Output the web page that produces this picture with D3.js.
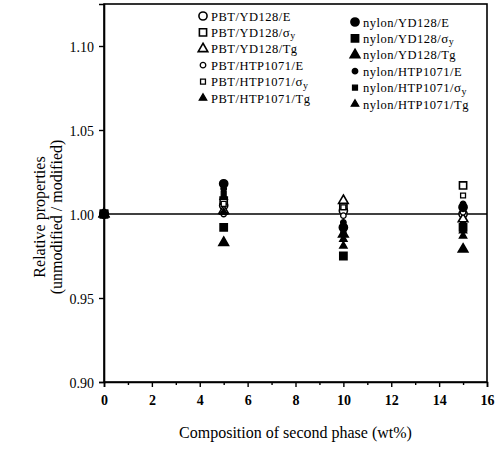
<!DOCTYPE html>
<html>
<head>
<meta charset="utf-8">
<script src="https://cdn.jsdelivr.net/npm/d3@7"></script>
<style>
  body { margin: 0; background: #fff; }
  svg { font-family: "Liberation Serif", "DejaVu Serif", serif; }
</style>
</head>
<body>
<svg id="svg1" width="499" height="451"></svg>
<script>
'use strict'

// composition of second phase (wt%)
let composition = [0, 5, 10, 15];

// relative properties, one array per series
let pbtYdE     = [1.000, 1.005, 1.002, 1.000];
let pbtYdSy    = [1.000, 1.008, 1.005, 1.017];
let pbtYdTg    = [1.000, 1.002, 1.008, 0.997];
let pbtHtpE    = [1.000, 1.000, 0.999, 1.001];
let pbtHtpSy   = [1.000, 1.006, 1.004, 1.011];
let pbtHtpTg   = [1.000, 1.010, 0.981, 0.987];
let nylonYdE   = [1.000, 1.018, 0.992, 1.004];
let nylonYdSy  = [1.000, 0.992, 0.975, 0.992];
let nylonYdTg  = [1.000, 0.983, 0.988, 0.979];
let nylonHtpE  = [1.000, 1.015, 0.995, 1.006];
let nylonHtpSy = [1.000, 1.012, 0.990, 0.994];
let nylonHtpTg = [1.000, 1.001, 0.985, 0.990];

let yTicks = [0.90, 0.95, 1.00, 1.05, 1.10];
let xTicks = [0, 2, 4, 6, 8, 10, 12, 14, 16];

// label parts: base text, then "sy" for sigma-y or the plain tail
let series = [
  {name: ["PBT/YD128/", "E"],      shape: "circle",   big: true,  fill: false, values: pbtYdE},
  {name: ["PBT/YD128/", "sy"],     shape: "square",   big: true,  fill: false, values: pbtYdSy},
  {name: ["PBT/YD128/", "Tg"],     shape: "triangle", big: true,  fill: false, values: pbtYdTg},
  {name: ["PBT/HTP1071/", "E"],    shape: "circle",   big: false, fill: false, values: pbtHtpE},
  {name: ["PBT/HTP1071/", "sy"],   shape: "square",   big: false, fill: false, values: pbtHtpSy},
  {name: ["PBT/HTP1071/", "Tg"],   shape: "triangle", big: false, fill: true,  values: pbtHtpTg},
  {name: ["nylon/YD128/", "E"],    shape: "circle",   big: true,  fill: true,  values: nylonYdE},
  {name: ["nylon/YD128/", "sy"],   shape: "square",   big: true,  fill: true,  values: nylonYdSy},
  {name: ["nylon/YD128/", "Tg"],   shape: "triangle", big: true,  fill: true,  values: nylonYdTg},
  {name: ["nylon/HTP1071/", "E"],  shape: "circle",   big: false, fill: true,  values: nylonHtpE},
  {name: ["nylon/HTP1071/", "sy"], shape: "square",   big: false, fill: true,  values: nylonHtpSy},
  {name: ["nylon/HTP1071/", "Tg"], shape: "triangle", big: false, fill: true,  values: nylonHtpTg}
];

let svg = d3.select("#svg1");
let x = d3.scaleLinear().domain([0, 16]).range([104, 487]);
let y = d3.scaleLinear().domain([0.90, 1.125]).range([382, 4]);

/**
 * @function
 * @description d3 symbol path for a series marker
 */
function markerPath(s) {
  let type = s.shape == "circle" ? d3.symbolCircle : (s.shape == "square" ? d3.symbolSquare : d3.symbolTriangle);
  let size = s.big ? 52 : 24;
  if (s.shape == "triangle") size = s.big ? 40 : 24;
  return d3.symbol().type(type).size(size)();
}

function drawMarker(g, s) {
  g.append("path")
    .attr("d", markerPath(s))
    .attr("fill", s.fill ? "#000" : "#fff")
    .attr("stroke", "#000")
    .attr("stroke-width", s.big ? 1.6 : 1.3);
}

// frame
svg.append("rect")
  .attr("x", x(0)).attr("y", y(1.125))
  .attr("width", x(16) - x(0)).attr("height", y(0.90) - y(1.125))
  .attr("fill", "none").attr("stroke", "#000").attr("stroke-width", 1.6);

// axes
let yAxis = svg.append("g")
  .attr("transform", `translate(${x(0)},0)`)
  .call(d3.axisLeft(y).tickValues(yTicks).tickSize(5).tickFormat(d3.format(".2f")));
let xAxis = svg.append("g")
  .attr("transform", `translate(0,${y(0.90)})`)
  .call(d3.axisBottom(x).tickValues(xTicks).tickSize(5).tickFormat(d3.format("d")));
svg.append("g")
  .attr("transform", `translate(0,${y(0.90)})`)
  .call(d3.axisBottom(x).tickValues(d3.range(1, 16, 2)).tickSize(3).tickFormat(""))
  .select(".domain").remove();

svg.selectAll(".domain").attr("stroke-width", 1.6);
svg.selectAll(".tick line").attr("stroke-width", 1.4);
yAxis.selectAll("text").attr("font-size", 14).attr("font-family", "Liberation Serif").attr("dx", "-2").attr("dy", "0.36em");
xAxis.selectAll("text").attr("font-size", 14).attr("font-family", "Liberation Serif").attr("font-weight", "bold").attr("dy", "1.05em");

// axis titles
svg.append("text")
  .attr("x", (x(0) + x(16)) / 2).attr("y", 438)
  .attr("text-anchor", "middle").attr("font-size", 16)
  .text("Composition of second phase (wt%)");
svg.append("text")
  .attr("transform", `translate(45,217) rotate(-90)`)
  .attr("text-anchor", "middle").attr("font-size", 16)
  .text("Relative properties");
svg.append("text")
  .attr("transform", `translate(62,217) rotate(-90)`)
  .attr("text-anchor", "middle").attr("font-size", 16)
  .text("(unmodified / modified)");

// reference line at 1.00
svg.append("line")
  .attr("x1", x(0)).attr("x2", x(16))
  .attr("y1", y(1.00)).attr("y2", y(1.00))
  .attr("stroke", "#000").attr("stroke-width", 1.5);

// points, open symbols first so the filled ones sit on top
let order = series.filter(s => !s.fill).concat(series.filter(s => s.fill && s.shape != "square"), series.filter(s => s.fill && s.shape == "square"));
order.forEach(s => {
  s.values.forEach((v, i) => {
    let g = svg.append("g").attr("transform", `translate(${x(composition[i])},${y(v)})`);
    drawMarker(g, s);
  });
});

// legend in two columns
series.forEach((s, i) => {
  let col = i < 6 ? 0 : 1;
  let row = i % 6;
  let lx = col == 0 ? 203 : 355;
  let ly = (col == 0 ? 16 : 22) + row * 16.4;
  let g = svg.append("g").attr("transform", `translate(${lx},${ly})`);
  drawMarker(g, s);
  let t = g.append("text").attr("x", 8).attr("y", 4.5)
    .attr("font-size", 12.5).attr("letter-spacing", 0.5);
  t.append("tspan").text(s.name[0]);
  if (s.name[1] == "sy") {
    t.append("tspan").attr("font-size", 13).text("σ");
    t.append("tspan").attr("font-size", 10).attr("dy", 2.5).text("y");
  } else {
    t.append("tspan").text(s.name[1]);
  }
});
</script>
</body>
</html>
